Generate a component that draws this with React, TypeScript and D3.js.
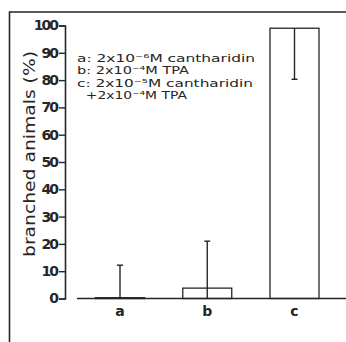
import { useEffect, useRef } from "react";
import * as d3 from "d3";

// groups and values (branched animals, %)
const groups = ["a", "b", "c"];
const means = [0.3, 3.8, 99];
// error bar end values (one-sided bars)
const errEnds = [12.2, 21, 80.3];
const yTicks = [0, 10, 20, 30, 40, 50, 60, 70, 80, 90, 100];

const legendLines = [
  "a: 2x10⁻⁶M cantharidin",
  "b: 2x10⁻⁴M TPA",
  "c: 2x10⁻⁵M cantharidin",
  "  +2x10⁻⁴M TPA",
];
// rendered widths of the legend lines in the figure
const legendWidths = [178, 112, 176, 110];

const W = 346;
const H = 342;
const INK = "#262626";
const FONT = "'DejaVu Sans', sans-serif";

export default function App() {
  const svgRef = useRef<SVGSVGElement>(null);

  useEffect(() => {
    if (!svgRef.current) return;
    const svg = d3.select(svgRef.current);
    svg.selectAll("*").remove();

    // outer frame (only top and left show in the crop)
    svg
      .append("path")
      .attr("d", `M9.5,${H}V12H${W}`)
      .attr("fill", "none")
      .attr("stroke", INK)
      .attr("stroke-width", 1.6);

    const y = d3.scaleLinear().domain([0, 100]).range([298.5, 25.5]);
    const x = d3.scalePoint<string>().domain(groups).range([120, 294.5]);
    const barW = 49;

    // y axis
    const ax = svg
      .append("g")
      .attr("transform", "translate(65,0)")
      .call(
        d3
          .axisLeft(y)
          .tickValues(yTicks)
          .tickSize(6)
          .tickSizeOuter(6)
          .tickPadding(2)
      );
    ax.select(".domain").attr("stroke", INK).attr("stroke-width", 1.6);
    ax.selectAll(".tick line").attr("stroke", INK).attr("stroke-width", 1.4);
    ax.selectAll(".tick text")
      .attr("fill", INK)
      .attr("font-family", FONT)
      .attr("font-size", 14)
      .attr("letter-spacing", -2)
      .attr("font-weight", "bold");

    // y label
    svg
      .append("text")
      .attr("transform", "translate(35,154) rotate(-90)")
      .attr("text-anchor", "middle")
      .attr("font-family", FONT)
      .attr("font-size", 16)
      .attr("fill", INK)
      .attr("textLength", 206)
      .attr("lengthAdjust", "spacingAndGlyphs")
      .text("branched animals (%)");

    // bars
    svg
      .append("g")
      .selectAll("rect")
      .data(groups)
      .join("rect")
      .attr("x", (d) => x(d)! - barW / 2)
      .attr("y", (d, i) => y(means[i]))
      .attr("width", barW)
      .attr("height", (d, i) => y(0) - y(means[i]))
      .attr("fill", "white")
      .attr("stroke", INK)
      .attr("stroke-width", 1.3);

    // error bars
    const eb = svg.append("g").attr("stroke", INK).attr("stroke-width", 1.4);
    groups.forEach((g, i) => {
      const cx = x(g)!;
      const from = means[i] > errEnds[i] ? y(means[i]) : y(0);
      eb.append("line")
        .attr("x1", cx)
        .attr("x2", cx)
        .attr("y1", from)
        .attr("y2", y(errEnds[i]));
      eb.append("line")
        .attr("x1", cx - 3)
        .attr("x2", cx + 3)
        .attr("y1", y(errEnds[i]))
        .attr("y2", y(errEnds[i]));
    });

    // baseline
    svg
      .append("line")
      .attr("x1", 77)
      .attr("x2", W)
      .attr("y1", y(0))
      .attr("y2", y(0))
      .attr("stroke", INK)
      .attr("stroke-width", 1.6);

    // category labels
    svg
      .append("g")
      .selectAll("text")
      .data(groups)
      .join("text")
      .attr("x", (d) => x(d)!)
      .attr("y", 316)
      .attr("text-anchor", "middle")
      .attr("font-family", FONT)
      .attr("font-size", 14)
      .attr("font-weight", "bold")
      .attr("fill", INK)
      .text((d) => d);

    // legend
    const lg = svg.append("g").attr("font-family", FONT).attr("fill", INK);
    legendLines.forEach((l, i) => {
      lg.append("text")
        .attr("x", 77)
        .attr("y", 61.5 + i * 12.5)
        .attr("font-size", 11)
        .attr("textLength", legendWidths[i])
        .attr("lengthAdjust", "spacingAndGlyphs")
        .attr("xml:space", "preserve")
        .text(l);
    });
  }, []);

  return (
    <svg
      ref={svgRef}
      width={W}
      height={H}
      style={{ position: "absolute", left: 0, top: 0, background: "white" }}
    />
  );
}
